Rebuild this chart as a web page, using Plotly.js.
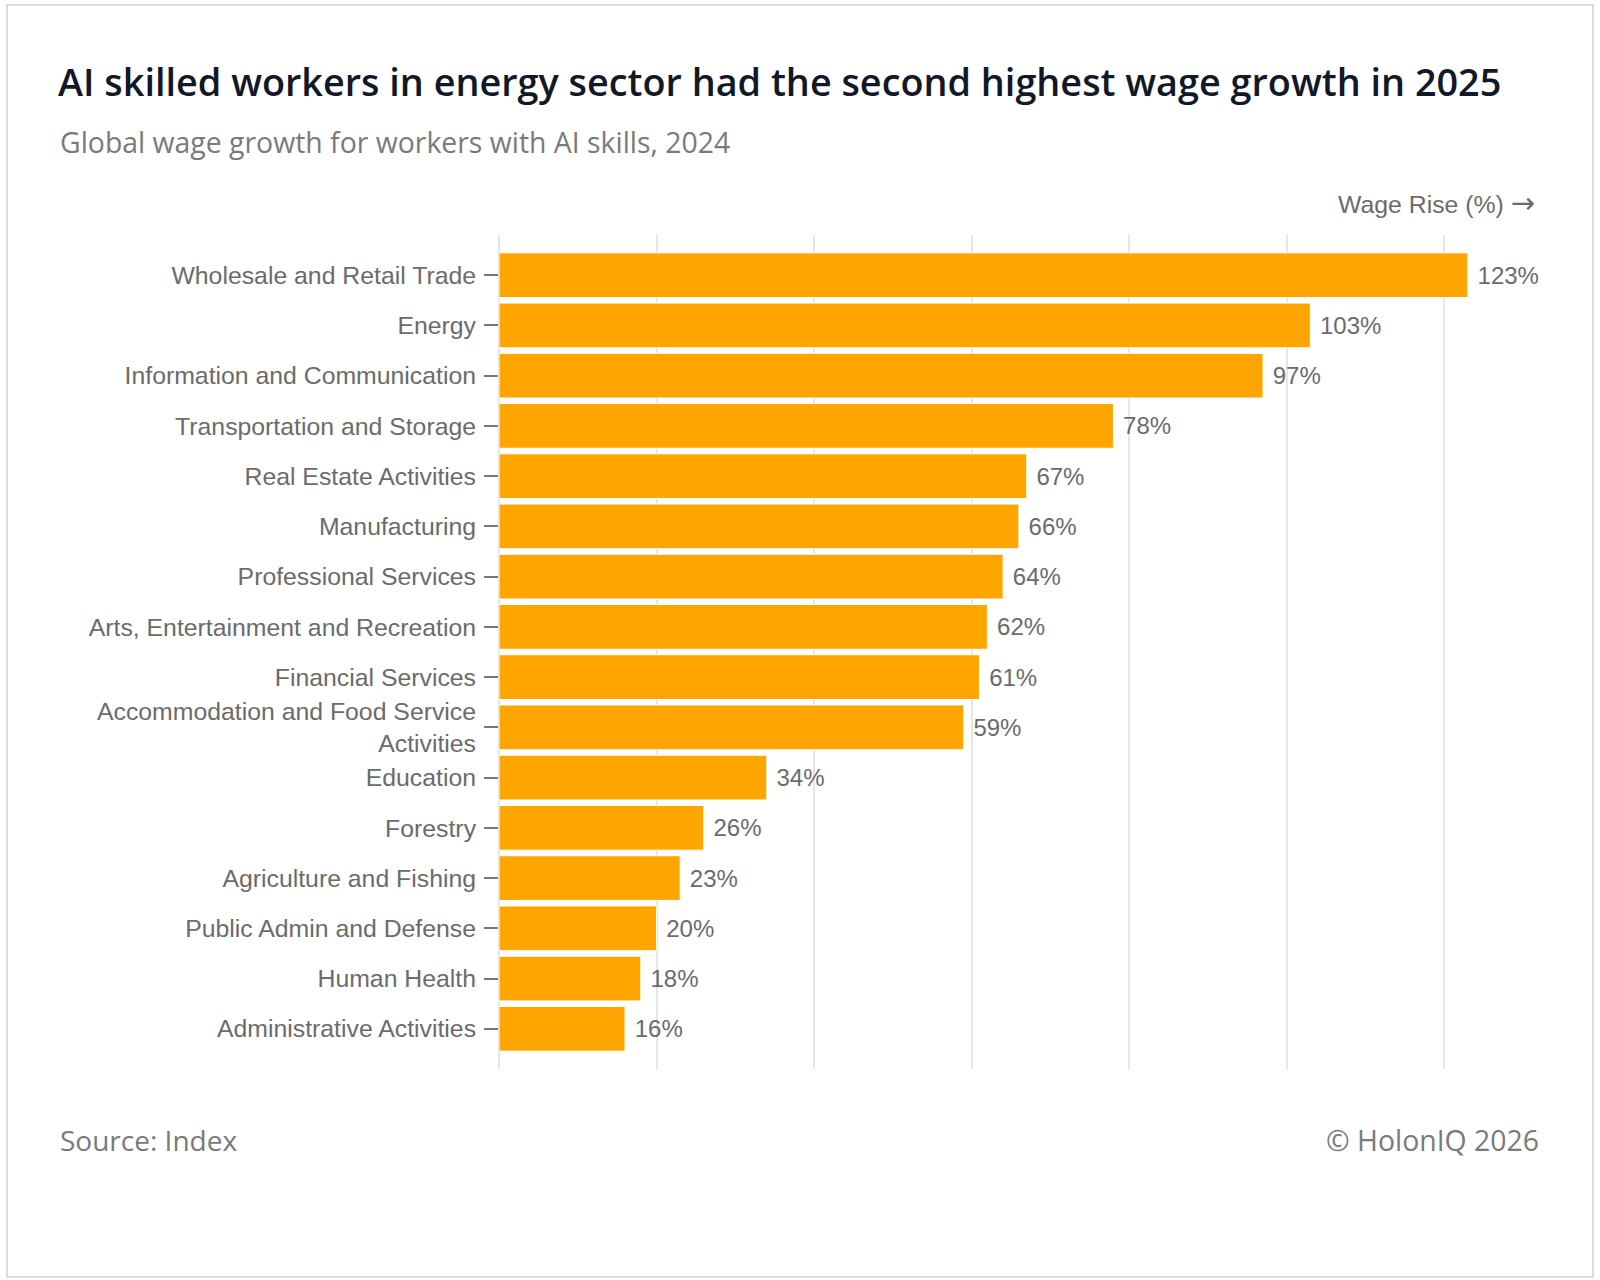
<!DOCTYPE html>
<html>
<head>
<meta charset="utf-8">
<script src="https://cdn.plot.ly/plotly-3.0.1.min.js"></script>
<style>
  html, body { margin: 0; padding: 0; background: #fff; }
  #wrap { position: relative; width: 1600px; height: 1280px; }
  #chart { width: 1600px; height: 1280px; }
  #frame { position: absolute; left: 6px; top: 4px; width: 1584px; height: 1270px;
           border: 2px solid #dcdcdc; pointer-events: none; }
</style>
</head>
<body>
<div id="wrap">
  <div id="chart"></div>
  <div id="frame"></div>
</div>
<script>
const categories = [
  "Wholesale and Retail Trade",
  "Energy",
  "Information and Communication",
  "Transportation and Storage",
  "Real Estate Activities",
  "Manufacturing",
  "Professional Services",
  "Arts, Entertainment and Recreation",
  "Financial Services",
  "Accommodation and Food Service<br>Activities",
  "Education",
  "Forestry",
  "Agriculture and Fishing",
  "Public Admin and Defense",
  "Human Health",
  "Administrative Activities"
];
const wageRise = [123, 103, 97, 78, 67, 66, 64, 62, 61, 59, 34, 26, 23, 20, 18, 16];
const gridTicks = [0, 20, 40, 60, 80, 100, 120];

const L = 499, T = 235, W = 1024, H = 834;
const px = x => (x - L) / W;
const py = y => (1069 - y) / H;

const trace = {
  type: 'bar',
  orientation: 'h',
  x: wageRise,
  y: categories,
  marker: { color: '#FFA500', line: { color: '#ffffff', width: 1 } },
  text: wageRise.map(v => ' ' + v + '%'),
  textposition: 'outside',
  textfont: { family: 'Liberation Sans, Arial, sans-serif', size: 24, color: '#6b6b6b' },
  cliponaxis: false,
  hoverinfo: 'none'
};

const layout = {
  width: 1600, height: 1280,
  margin: { l: L, r: 1600 - L - W, t: T, b: 1280 - T - H, pad: 0 },
  paper_bgcolor: '#ffffff', plot_bgcolor: '#ffffff',
  showlegend: false,
  bargap: 0.11,
  title: {
    text: 'AI skilled workers in energy sector had the second highest wage growth in 2025',
    x: 58 / 1600, xref: 'container', xanchor: 'left',
    y: 1 - 83 / 1280, yref: 'container', yanchor: 'middle',
    font: { family: 'Open Sans, Noto Sans, sans-serif', size: 37.8, weight: 600, color: '#111827' }
  },
  xaxis: {
    range: [0, 130],
    tickvals: gridTicks,
    showticklabels: false,
    showgrid: true, gridcolor: '#e6e6e6', gridwidth: 2,
    zeroline: true, zerolinecolor: '#e6e6e6', zerolinewidth: 2,
    showline: false, ticks: '',
    fixedrange: true
  },
  yaxis: {
    type: 'category',
    range: [15.8, -0.8],
    showgrid: false, zeroline: false, showline: false,
    ticks: 'outside', ticklen: 14, tickwidth: 2, tickcolor: '#777777',
    ticklabelstandoff: 3,
    tickfont: { family: 'Liberation Sans, Arial, sans-serif', size: 24.8, color: '#6b6b6b' },
    fixedrange: true
  },
  annotations: [
    {
      text: 'Global wage growth for workers with AI skills, 2024',
      xref: 'paper', yref: 'paper', x: px(58), y: py(142),
      xanchor: 'left', yanchor: 'middle', showarrow: false,
      font: { family: 'Open Sans, Noto Sans, sans-serif', size: 28.4, color: '#7a7a7a' }
    },
    {
      text: 'Wage Rise (%) <span style="font-family:DejaVu Sans;font-size:29px">→</span>',
      xref: 'paper', yref: 'paper', x: px(1537), y: py(203),
      xanchor: 'right', yanchor: 'middle', showarrow: false,
      font: { family: 'Liberation Sans, Arial, sans-serif', size: 24.8, color: '#6b6b6b' }
    },
    {
      text: 'Source: Index',
      xref: 'paper', yref: 'paper', x: px(58), y: py(1140),
      xanchor: 'left', yanchor: 'middle', showarrow: false,
      font: { family: 'Open Sans, Noto Sans, sans-serif', size: 28, color: '#7a7a7a' }
    },
    {
      text: '© HolonIQ 2026',
      xref: 'paper', yref: 'paper', x: px(1541), y: py(1140),
      xanchor: 'right', yanchor: 'middle', showarrow: false,
      font: { family: 'Open Sans, Noto Sans, sans-serif', size: 28.4, color: '#7a7a7a' }
    }
  ]
};

Plotly.newPlot('chart', [trace], layout, { displayModeBar: false, staticPlot: true });
</script>
</body>
</html>
